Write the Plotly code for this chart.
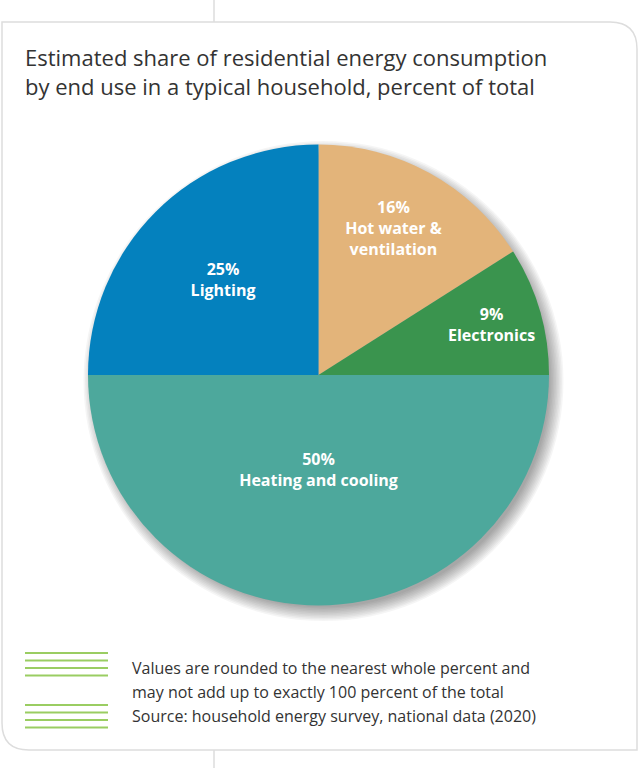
import plotly.graph_objects as go

# ---- data ----
categories = ["Hot water &<br>ventilation", "Electronics", "Heating and cooling", "Lighting"]
values = [16, 9, 50, 25]
colors = ["#E3B47A", "#3A944E", "#4DA89C", "#0481BE"]

title_lines = ["Estimated share of residential energy consumption",
               "by end use in a typical household, percent of total"]
note_lines = ["Values are rounded to the nearest whole percent and",
              "may not add up to exactly 100 percent of the total"]
source_line = "Source: household energy survey, national data (2020)"

W, H = 640, 768
# pie geometry (pixels)
CX, CY, R = 318.5, 375.0, 230.5

templates = [
    "<b>%{value}%</b><br><b>%{text}</b><br> ",
    "<b>%{value}%</b><br><b>%{text}</b>",
    "<b>%{value}%</b><br><b>%{text}</b><br> <br> ",
    "<b>%{value}%</b><br><b>%{text}</b>",
]

fig = go.Figure()

fig.add_trace(go.Pie(
    labels=[c.replace("<br>", " ") for c in categories],
    values=values,
    text=categories,
    sort=False,
    direction="clockwise",
    rotation=0,
    marker=dict(colors=colors, line=dict(width=0)),
    texttemplate=templates,
    textposition="inside",
    insidetextorientation="horizontal",
    insidetextfont=dict(family="Open Sans, Arial, sans-serif", size=16, color="white"),
    hoverinfo="label+value",
    showlegend=False,
    domain=dict(x=[(CX - R) / W, (CX + R) / W], y=[1 - (CY + R) / H, 1 - (CY - R) / H]),
))

shapes = []
# card outline
shapes.append(dict(type="path", xref="x", yref="y", layer="below",
                   path="M 2,22 L 610,22 Q 637,22 637,49 L 637,750 L 29,750 Q 2,750 2,723 Z",
                   line=dict(color="#DDDDDD", width=1.5), fillcolor="white"))
# vertical connector lines
shapes.append(dict(type="line", xref="x", yref="y", x0=214, x1=214, y0=0, y1=22,
                   line=dict(color="#DDDDDD", width=1.5), layer="below"))
shapes.append(dict(type="line", xref="x", yref="y", x0=214, x1=214, y0=750, y1=768,
                   line=dict(color="#DDDDDD", width=1.5), layer="below"))
# soft drop shadow
for i in range(10):
    rr = R - 4 + i * 1.5
    dx, dy = 5, 6
    shapes.append(dict(type="circle", xref="x", yref="y", layer="below",
                       x0=CX + dx - rr, x1=CX + dx + rr, y0=CY + dy - rr, y1=CY + dy + rr,
                       fillcolor="rgba(0,0,0,0.04)", line=dict(width=0)))
# green striped swatches
for top in (653, 705):
    for k in range(4):
        y = top + k * 7.5
        shapes.append(dict(type="line", xref="x", yref="y", x0=25, x1=108, y0=y, y1=y,
                           line=dict(color="#9ACD62", width=2)))

annotations = []
for j, t in enumerate(note_lines):
    annotations.append(dict(xref="x", yref="y", x=130, y=668 + j * 24, text=t, showarrow=False,
                            xanchor="left", yanchor="middle",
                            font=dict(family="Open Sans, Arial, sans-serif", size=16, color="#333333")))
annotations.append(dict(xref="x", yref="y", x=130, y=716, text=source_line, showarrow=False,
                        xanchor="left", yanchor="middle",
                        font=dict(family="Open Sans, Arial, sans-serif", size=16, color="#333333")))

fig.update_layout(
    width=W, height=H,
    margin=dict(l=0, r=0, t=0, b=0),
    paper_bgcolor="white", plot_bgcolor="rgba(0,0,0,0)",
    title=dict(text="<br>".join(title_lines), xref="container", yref="container",
               x=25 / W, xanchor="left", y=1 - 66 / H, yanchor="top",
               font=dict(family="Open Sans, Arial, sans-serif", size=22, color="#333333")),
    xaxis=dict(range=[0, W], visible=False, fixedrange=True),
    yaxis=dict(range=[H, 0], visible=False, fixedrange=True),
    shapes=shapes,
    annotations=annotations,
    showlegend=False,
)

fig.write_html("out.html")
